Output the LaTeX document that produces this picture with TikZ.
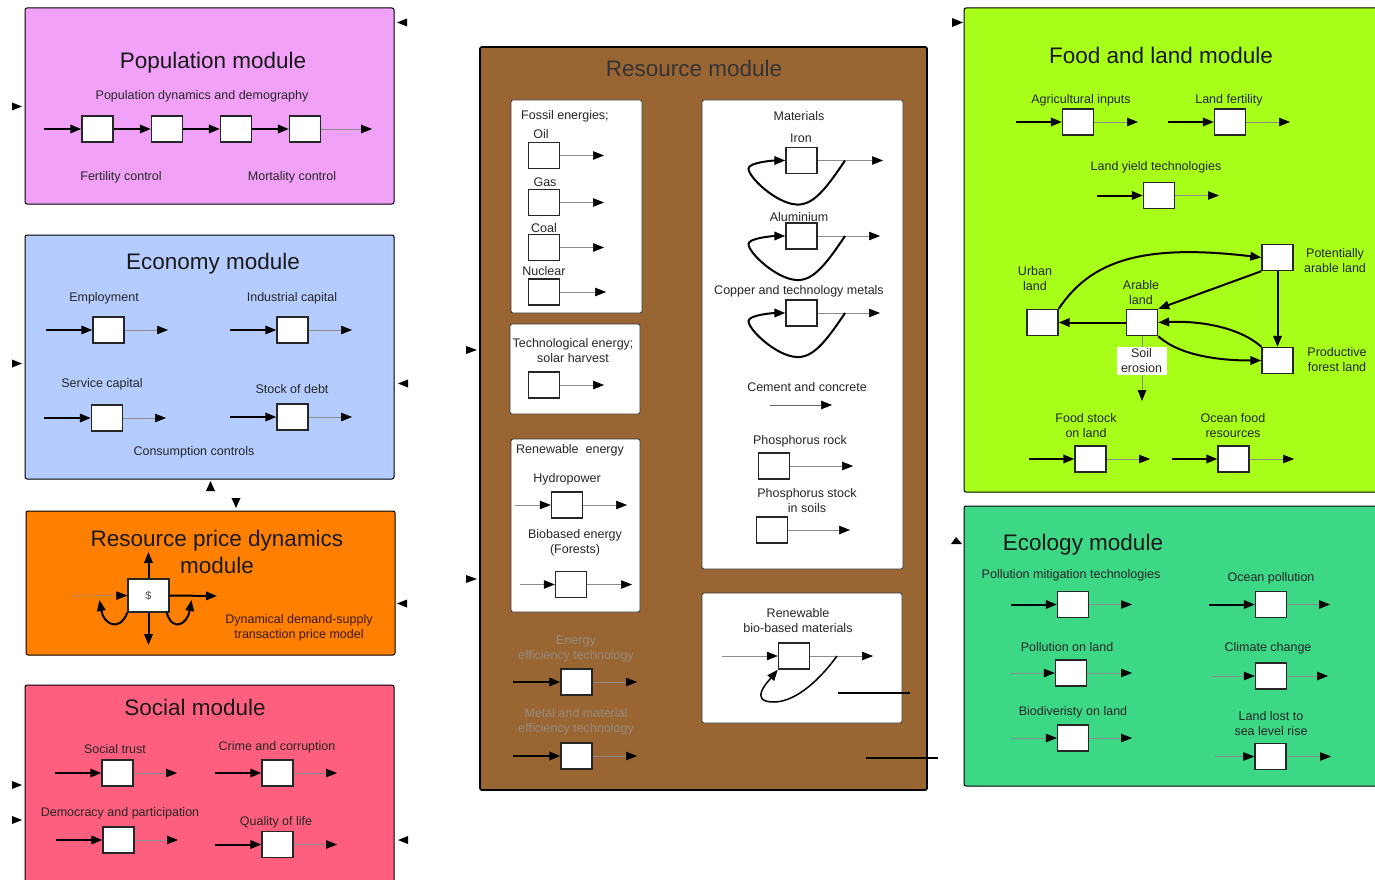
\documentclass[tikz,border=0pt]{standalone}
\usepackage{fontspec}
\setmainfont{Liberation Sans}
\usetikzlibrary{arrows.meta}

% stock with inflow and outflow: name, x, y, inflow start x, outflow end x, inflow style
\newcommand{\stkio}[6]{%
  \node[stock] (#1) at (#2,#3) {};
  \coordinate (#1-in) at (#4,#3);
  \coordinate (#1-out) at (#5,#3);
  \draw[#6] (#1-in) -- (#1.west);
  \draw[thinflow] (#1.east) -- (#1-out);
}
% stock with outflow only: name, x, y, outflow end x
\newcommand{\stko}[4]{%
  \node[stock] (#1) at (#2,#3) {};
  \coordinate (#1-out) at (#4,#3);
  \draw[thinflow] (#1.east) -- (#1-out);
}
% recycling loop from the outflow back into a stock
\newcommand{\recycle}[1]{%
  \coordinate (#1-lp) at ([xshift=43.5pt]#1.center);
  \coordinate (#1-lb) at ([xshift=-5pt,yshift=-44pt]#1.center);
  \coordinate (#1-ll) at ([xshift=-53pt,yshift=-8pt]#1.center);
  \draw[loopflow] (#1-lp) .. controls +(-20,30) and +(16,1) .. (#1-lb)
     .. controls +(-20,-1) and +(0,9) .. (#1-ll)
     .. controls +(0,-6) and +(-12,0) .. (#1.west);
}

\definecolor{popc}{RGB}{241,161,248}
\definecolor{ecoc}{RGB}{180,204,255}
\definecolor{pricec}{RGB}{255,128,0}
\definecolor{socc}{RGB}{255,95,127}
\definecolor{resc}{RGB}{153,102,51}
\definecolor{foodc}{RGB}{168,255,26}
\definecolor{ecolc}{RGB}{61,216,134}
\definecolor{fadedtxt}{RGB}{150,138,126}
\definecolor{pricetxt}{RGB}{60,25,0}

\begin{document}
\begin{tikzpicture}[x=1pt,y=-1pt,
  modbox/.style={draw=black,line width=1pt,rounded corners=2pt},
  subbox/.style={draw=black!80,fill=white,line width=0.8pt,rounded corners=2pt},
  stock/.style={draw=black!85,fill=white,line width=1.4pt,minimum width=31pt,minimum height=26pt,inner sep=0pt},
  head/.style={-{Triangle[length=11pt,width=8.5pt,color=black]}},
  thickflow/.style={head,line width=2pt},
  thinflow/.style={head,line width=0.6pt,draw=black!45},
  loopflow/.style={head,line width=2pt},
  lbl/.style={font=\fontsize{12.5}{15}\selectfont,text=black!85,align=center,inner sep=0pt,yshift=-1pt},
  ttl/.style={font=\fontsize{22.5}{27}\selectfont,text=black!90,align=center,inner sep=0pt,yshift=-2pt},
  stray/.style={line width=2pt}
]
\clip (0,0) rectangle (1375,880);
\useasboundingbox (0,0) rectangle (1375,880);
\fill[white] (0,0) rectangle (1375,880);

% ---------------- Population module
\draw[modbox,fill=popc] (25,8) rectangle (394,204);
\node[ttl] (popT) at (213,61) {Population module};
\node[lbl] (popS) at (202,95) {Population dynamics and demography};
\node[stock] (p1) at (97.5,129) {};
\node[stock] (p2) at (167,129) {};
\node[stock] (p3) at (236,129) {};
\node[stock] (p4) at (305,129) {};
\coordinate (p-in) at (44,129);
\coordinate (p-out) at (372,129);
\draw[thickflow] (p-in) -- (p1.west);
\draw[thickflow] (p1.east) -- (p2.west);
\draw[thickflow] (p2.east) -- (p3.west);
\draw[thickflow] (p3.east) -- (p4.west);
\draw[thinflow] (p4.east) -- (p-out);
\node[lbl] (popF) at (121,176) {Fertility control};
\node[lbl] (popM) at (292,176) {Mortality control};
\fill (397,22.5) -- (407,18.5) -- (407,26.5) -- cycle;
\fill (22,106.5) -- (12,102.5) -- (12,110.5) -- cycle;

% ---------------- Economy module
\draw[modbox,fill=ecoc] (25,235) rectangle (394,479);
\node[ttl] (ecoT) at (213,262) {Economy module};
\node[lbl] (ecoE) at (104,297) {Employment};
\node[lbl] (ecoI) at (292,297) {Industrial capital};
\node[lbl] (ecoS) at (102,383) {Service capital};
\node[lbl] (ecoD) at (292,388) {Stock of debt};
\node[lbl] (ecoC) at (194,451) {Consumption controls};
\stkio{emp}{108.5}{330}{46}{168}{thickflow}
\stkio{ind}{292.5}{330}{230}{352}{thickflow}
\stkio{ser}{107}{418}{44}{166}{thickflow}
\stkio{debt}{292.5}{417}{230}{352}{thickflow}
\fill (22,363.5) -- (12,359.5) -- (12,367.5) -- cycle;
\fill (398,383.5) -- (408,379.5) -- (408,387.5) -- cycle;
\fill (210.5,481) -- (206,491) -- (215,491) -- cycle;
\fill (236,508) -- (231.5,498) -- (240.5,498) -- cycle;

% ---------------- Resource price dynamics module
\draw[modbox,fill=pricec] (26,511) rectangle (395,655);
\node[ttl] (priT) at (217,549.5) {Resource price dynamics\\module};
\node[stock,minimum width=41pt,minimum height=33pt] (dollar) at (148.5,595.5)
  {\fontsize{11}{13}\selectfont\color{black!70}\$};
\coordinate (pr-up) at (148.5,552);
\coordinate (pr-dn) at (148.5,645);
\coordinate (pr-rt) at (217,596);
\coordinate (pr-in) at (72,596);
\coordinate (pr-l) at (99.5,600);
\coordinate (pr-r) at (191.5,600);
\draw[thickflow] (dollar.north) -- (pr-up);
\draw[thickflow] (dollar.south) -- (pr-dn);
\draw[thickflow] (dollar.east) -- (pr-rt);
\draw[thinflow] (pr-in) -- (dollar.west);
\draw[loopflow] (dollar.south west) .. controls +(-8,20) and +(4,24) .. (pr-l);
\draw[loopflow] ([xshift=-3pt]dollar.south east) .. controls +(6,20) and +(-4,24) .. (pr-r);
\node[lbl,text=pricetxt] (priD) at (299,626.5) {Dynamical demand-supply\\transaction price model};
\fill (397,603.5) -- (407,599.5) -- (407,607.5) -- cycle;

% ---------------- Social module
\draw[modbox,fill=socc] (25,685) rectangle (394,890);
\node[ttl] (socT) at (195,705) {Social module};
\node[lbl] (socT1) at (115,748) {Social trust};
\node[lbl] (socC) at (277,746) {Crime and corruption};
\node[lbl] (socD) at (120,812) {Democracy and participation};
\node[lbl] (socQ) at (276,821) {Quality of life};
\stkio{trust}{117.5}{773}{55}{177}{thickflow}
\stkio{crime}{277.5}{773}{215}{337}{thickflow}
\stkio{demo}{118.5}{840}{56}{178}{thickflow}
\stkio{qol}{277.5}{844.5}{215}{337}{thickflow}
\fill (22,785) -- (12,781) -- (12,789) -- cycle;
\fill (22,820) -- (12,816) -- (12,824) -- cycle;
\fill (398,840) -- (408,836) -- (408,844) -- cycle;

% ---------------- Resource module
\draw[modbox,fill=resc,line width=1.8pt] (480,47) rectangle (927,790);
\node[ttl,text=black!80] (resT) at (694,66) {Resource module};
\fill (477,350) -- (466,346) -- (466,354) -- cycle;
\fill (477,579) -- (466,575) -- (466,583) -- cycle;

% fossil energies
\draw[subbox] (511,100) rectangle (642,313);
\node[lbl,anchor=west] (fosT) at (521,115) {Fossil energies;};
\node[lbl] (oilT) at (541,133) {Oil};
\node[lbl] (gasT) at (545,181) {Gas};
\node[lbl] (coalT) at (544,227) {Coal};
\node[lbl] (nucT) at (544,270) {Nuclear};
\stko{oil}{544}{155.5}{604}
\stko{gas}{544}{202.5}{604}
\stko{coal}{544}{247.5}{604}
\stko{nuc}{544}{292}{606}

% technological energy
\draw[subbox] (510,324) rectangle (640,414);
\node[lbl] (solT) at (573,349.5) {Technological energy;\\solar harvest};
\stko{solar}{544}{385}{604}

% renewable energy
\draw[subbox] (511,439) rectangle (640,612);
\node[lbl] (renT) at (570,449) {Renewable\ \ energy};
\node[lbl] (hydT) at (567,478) {Hydropower};
\node[lbl] (bfT) at (575,542) {Biobased energy\\(Forests)};
\stkio{hydro}{567}{505}{515}{627}{thinflow}
\stkio{biofor}{571}{584.5}{520}{632}{thinflow}

% efficiency technologies
\node[lbl,text=fadedtxt] (eeT) at (576,647.5) {Energy\\efficiency technology};
\node[lbl,text=fadedtxt] (meT) at (576,720.5) {Metal and material\\efficiency technology};
\stkio{eeff}{576.5}{682}{513}{637}{thickflow}
\stkio{meff}{576.5}{756}{513}{637}{thickflow}

% materials
\draw[subbox] (702,100) rectangle (903,569);
\node[lbl] (matT) at (799,115) {Materials};
\node[lbl] (ironT) at (801,137) {Iron};
\node[lbl] (aluT) at (799,216) {Aluminium};
\node[lbl] (cuT) at (799,290) {Copper and technology metals};
\stko{iron}{801.5}{160.5}{883}
\stko{alu}{801.5}{236}{880}
\stko{copper}{801.5}{313}{880}
\recycle{iron}
\recycle{alu}
\recycle{copper}
\node[lbl] (cemT) at (807,386) {Cement and concrete};
\coordinate (cem-a) at (770,405);
\coordinate (cem-b) at (832,405);
\draw[head,line width=0.6pt,draw=black!60] (cem-a) -- (cem-b);
\node[lbl] (prT) at (800,440) {Phosphorus rock};
\stko{prock}{774}{466}{853}
\node[lbl] (psT) at (807,499.5) {Phosphorus stock\\in soils};
\stko{psoil}{772}{530}{850}

% renewable bio-based materials
\draw[subbox] (702,593) rectangle (902,723);
\node[lbl] (bmT) at (798,619.5) {Renewable\\bio-based materials};
\stkio{biomat}{794}{656}{722}{873}{thinflow}
\coordinate (bm-lp) at (837,656);
\coordinate (bm-lb) at (774,702);
\draw[loopflow,line width=1.5pt] (bm-lp) .. controls +(-22,30) and +(18,0) .. (bm-lb)
   .. controls +(-26,0) and +(-10,12) .. (biomat.south west);
\coordinate (sl1a) at (838,692.5);
\coordinate (sl1b) at (910,692.5);
\coordinate (sl2a) at (866,758);
\coordinate (sl2b) at (938,758);
\draw[stray] (sl1a) -- (sl1b);
\draw[stray] (sl2a) -- (sl2b);

% ---------------- Food and land module
\draw[modbox,fill=foodc] (964,8) rectangle (1385,492);
\node[ttl] (fdT) at (1161,53) {Food and land module};
\fill (963,22.5) -- (952,18) -- (952,27) -- cycle;
\node[lbl] (agT) at (1081,99) {Agricultural inputs};
\node[lbl] (lfT) at (1229,99) {Land fertility};
\node[lbl] (lyT) at (1156,166) {Land yield technologies};
\stkio{agri}{1078}{122}{1016}{1138}{thickflow}
\stkio{fert}{1230}{122}{1168}{1290}{thickflow}
\stkio{yield}{1159}{195.5}{1097}{1219}{thickflow}

\node[stock] (pot) at (1277.5,257.5) {};
\node[stock] (urban) at (1042.5,322.5) {};
\node[stock] (arable) at (1142,322.5) {};
\node[stock] (prod) at (1277.5,360.5) {};
\node[lbl] (potT) at (1335,259.5) {Potentially\\arable land};
\node[lbl] (urbT) at (1035,277.5) {Urban\\land};
\node[lbl] (arbT) at (1141,292) {Arable\\land};
\node[lbl] (prdT) at (1337,359) {Productive\\forest land};
\draw[thickflow] (urban.north east) .. controls (1090,262) and (1140,243) .. (pot.west);
\draw[thickflow] (pot.south west) -- (arable.north east);
\draw[thickflow] (pot.south) -- (prod.north);
\draw[thickflow] (arable.west) -- (urban.east);
\draw[thickflow] (prod.north west) .. controls +(-22,-20) and +(40,-2) .. (arable.east);
\draw[thickflow] (arable.south east) .. controls +(22,20) and +(-40,0) .. (prod.west);
\coordinate (soil-end) at (1142,401);
\draw[thinflow] (arable.south) -- (soil-end);
\node[lbl,fill=white,minimum width=50pt,minimum height=28pt,yshift=1pt] (soilT) at (1141.5,361) {Soil\\erosion};
\node[lbl] (fsT) at (1086,424.5) {Food stock\\on land};
\node[lbl] (ofT) at (1233,424.5) {Ocean food\\resources};
\stkio{fstock}{1090.5}{459}{1029}{1150}{thickflow}
\stkio{ocean}{1233.5}{459}{1172}{1294}{thickflow}

% ---------------- Ecology module
\draw[modbox,fill=ecolc] (964,506) rectangle (1385,786);
\node[ttl] (ecT) at (1083,543) {Ecology module};
\fill (956,537) -- (951,544) -- (962,544) -- cycle;
\node[lbl] (pmT) at (1071,574) {Pollution mitigation technologies};
\node[lbl] (opT) at (1271,577) {Ocean pollution};
\node[lbl] (lpT) at (1067,646) {Pollution on land};
\node[lbl] (ccT) at (1268,647) {Climate change};
\node[lbl] (bdT) at (1073,711) {Biodiveristy on land};
\node[lbl] (slT) at (1271,722.5) {Land lost to\\sea level rise};
\stkio{pmit}{1073}{604.5}{1011}{1132}{thickflow}
\stkio{opol}{1271}{604.5}{1209}{1330}{thickflow}
\stkio{lpol}{1071}{673}{1010}{1132}{thinflow}
\stkio{clim}{1271}{676}{1212}{1328}{thinflow}
\stkio{bio}{1073}{738}{1011}{1132}{thinflow}
\stkio{sea}{1270.5}{756.5}{1215}{1331}{thinflow}
\end{tikzpicture}
\end{document}
